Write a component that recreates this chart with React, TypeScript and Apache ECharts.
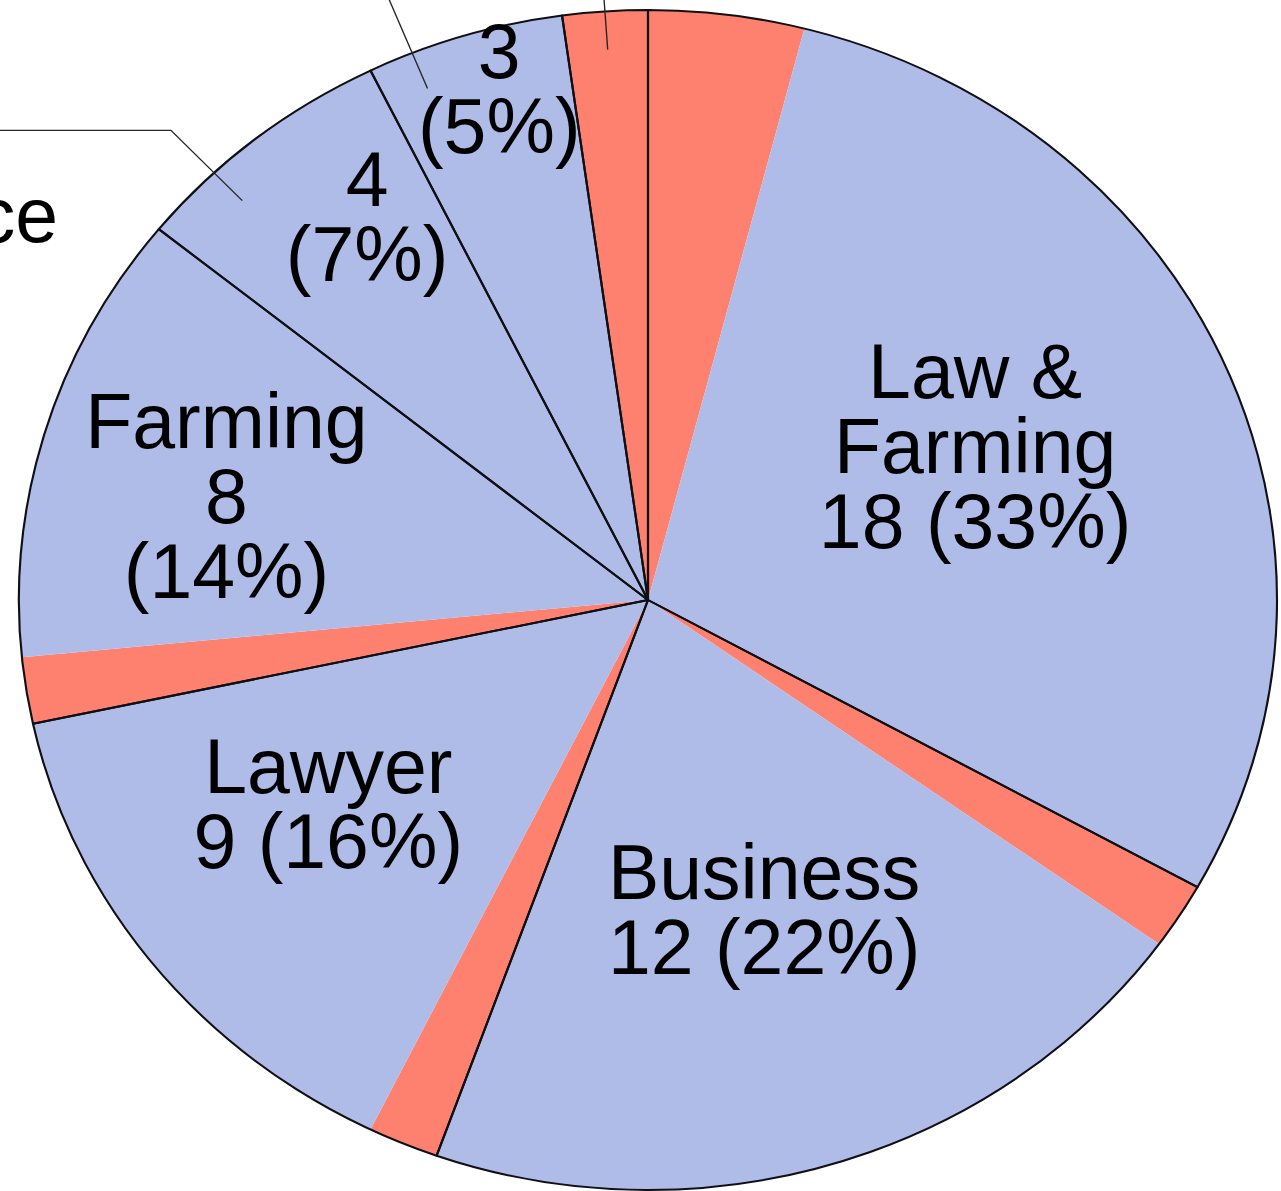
import React, { useEffect, useRef } from "react";
import * as echarts from "echarts";

// ---------- data ----------
const GROUPS = ["Law & Farming", "Business", "Lawyer", "Farming", "Public Service", "Medicine", "Other"];
const COUNTS = [18, 12, 9, 8, 4, 3, 1];
const PERCENTS = [33, 22, 16, 14, 7, 5, 2];
// slice sizes (red sub-part first, then blue part, clockwise)
const RED_PART = [2.2, 1.0, 1.0, 1.0, 0, 0, 1.2];
const BLUE_PART = [16.0, 11.3, 7.9, 6.8, 3.8, 2.8, 0];
// label text pieces
const LABEL_NAME = ["Law &\nFarming", "Business", "Lawyer", "Farming", "", "", ""];
const LABEL_SEP = [" ", " ", " ", "\n", "\n", "\n", ""];
const INSIDE_LABEL = [true, true, true, true, true, true, false];
const OUTER_NAME_INDEX = 4;

// ---------- layout / style ----------
const W = 1281;
const H = 1191;
const CX = 648;
const CY = 600;
const RX = 629;
const RY = 590;
const SX = RX / RY;
const INNER_W = W / SX;
const CX_S = CX / SX;
const BLUE = "#AFBCE8";
const RED = "#FE806F";
const FONT = "'Liberation Sans', Arial, Helvetica, sans-serif";
// label placement: [angle shift in degrees from the slice middle, radius fraction]
const LABEL_SHIFT_DEG = [-3.45, -2.05, 3.85, -1.95, 4.15, 1.75, 0];
const LABEL_RADIUS = [0.582, 0.556, 0.614, 0.693, 0.789, 0.898, 0];
const NAME_SHIFT_DEG = -16.53;
const NAME_RADIUS = 1.143;
const LEADER_R = 0.935 * RY;
const LEADER_LEN = [0, 0, 0, 0, 97, 160, 160];
const LEADER_LEN2 = [0, 0, 0, 0, 260, 60, 60];

const groupTotals = GROUPS.map((_, i) => +(RED_PART[i] + BLUE_PART[i]).toFixed(4));
const grandTotal = groupTotals.reduce((a, b) => a + b, 0);

function blueMids(): number[] {
  const mids: number[] = [];
  let acc = 0;
  for (let i = 0; i < GROUPS.length; i++) {
    const s = acc + RED_PART[i];
    mids.push(((s + BLUE_PART[i] / 2) / grandTotal) * 360);
    acc += RED_PART[i] + BLUE_PART[i];
  }
  return mids;
}

function polarPoint(deg: number, rho: number) {
  const t = (deg * Math.PI) / 180;
  return { x: CX + rho * RX * Math.sin(t), y: CY - rho * RY * Math.cos(t) };
}

function leaderSeries(startAngle: number, items: number[]) {
  return {
    type: "pie",
    z: 6,
    center: [CX_S, CY],
    radius: LEADER_R,
    startAngle,
    silent: true,
    avoidLabelOverlap: false,
    emphasis: { disabled: true },
    itemStyle: { color: "rgba(0,0,0,0)", borderWidth: 0 },
    label: { show: false },
    labelLine: { show: false },
    data: groupTotals.map((v, i) =>
      items.includes(i)
        ? {
            value: v,
            name: GROUPS[i],
            label: { show: true, position: "outside", formatter: " ", fontSize: 12, color: "rgba(0,0,0,0)" },
            labelLine: {
              show: true,
              length: LEADER_LEN[i],
              length2: LEADER_LEN2[i],
              lineStyle: { color: "#262626", width: 1.3 },
            },
          }
        : { value: v, name: GROUPS[i] }
    ),
  };
}

export default function App() {
  const shapeRef = useRef<HTMLDivElement>(null);
  const labelRef = useRef<HTMLDivElement>(null);

  useEffect(() => {
    if (!shapeRef.current || !labelRef.current) return;
    const shapes = echarts.init(shapeRef.current, undefined, { renderer: "svg" });
    const labels = echarts.init(labelRef.current, undefined, { renderer: "svg" });

    const fillData: any[] = [];
    GROUPS.forEach((g, i) => {
      if (RED_PART[i] > 0) fillData.push({ value: RED_PART[i], name: g + " (red)", itemStyle: { color: RED } });
      if (BLUE_PART[i] > 0) fillData.push({ value: BLUE_PART[i], name: g, itemStyle: { color: BLUE } });
    });

    shapes.setOption({
      animation: false,
      series: [
        {
          type: "pie",
          z: 2,
          center: [CX_S, CY],
          radius: RY,
          startAngle: 90,
          silent: true,
          emphasis: { disabled: true },
          label: { show: false },
          labelLine: { show: false },
          itemStyle: { borderWidth: 0 },
          data: fillData,
        },
        {
          type: "pie",
          z: 4,
          center: [CX_S, CY],
          radius: RY,
          startAngle: 90,
          silent: true,
          emphasis: { disabled: true },
          label: { show: false },
          labelLine: { show: false },
          itemStyle: { color: "rgba(0,0,0,0)", borderColor: "#0f0f14", borderWidth: 2 },
          data: groupTotals.map((v, i) => ({ value: v, name: GROUPS[i] })),
        },
        leaderSeries(95, [4, 5]),
        leaderSeries(90, [6]),
      ],
    });

    const mids = blueMids();
    const labelText = GROUPS.map(
      (_, i) => (LABEL_NAME[i] ? LABEL_NAME[i] + "\n" : "") + COUNTS[i] + LABEL_SEP[i] + "(" + PERCENTS[i] + "%)"
    );

    labels.setOption({
      animation: false,
      series: [
        {
          type: "pie",
          center: [CX, CY],
          radius: RY,
          startAngle: 90,
          silent: true,
          avoidLabelOverlap: false,
          emphasis: { disabled: true },
          itemStyle: { color: "rgba(0,0,0,0)", borderWidth: 0 },
          labelLine: { show: false },
          label: {
            show: true,
            position: "inside",
            color: "#000",
            fontFamily: FONT,
            fontSize: 77,
            lineHeight: 75,
            textBorderWidth: 0,
          },
          data: groupTotals.map((v, i) => ({
            value: v,
            name: GROUPS[i],
            label: { show: INSIDE_LABEL[i], formatter: labelText[i] },
          })),
          labelLayout: (p: any) => {
            const i = p.dataIndex;
            const pt = polarPoint(mids[i] + LABEL_SHIFT_DEG[i], LABEL_RADIUS[i]);
            return { x: pt.x, y: pt.y, align: "center", verticalAlign: "middle" };
          },
        },
        {
          type: "pie",
          center: [CX, CY],
          radius: RY,
          startAngle: 90,
          silent: true,
          avoidLabelOverlap: false,
          emphasis: { disabled: true },
          itemStyle: { color: "rgba(0,0,0,0)", borderWidth: 0 },
          labelLine: { show: false },
          label: { show: false },
          data: groupTotals.map((v, i) =>
            i === OUTER_NAME_INDEX
              ? {
                  value: v,
                  name: GROUPS[i],
                  label: {
                    show: true,
                    position: "outside",
                    formatter: GROUPS[i],
                    color: "#000",
                    fontFamily: FONT,
                    fontSize: 77,
                    lineHeight: 75,
                  },
                }
              : { value: v, name: GROUPS[i] }
          ),
          labelLayout: () => {
            const pt = polarPoint(mids[OUTER_NAME_INDEX] + NAME_SHIFT_DEG, NAME_RADIUS);
            return { x: pt.x, y: pt.y, align: "right", verticalAlign: "middle" };
          },
        },
      ],
    });

    return () => {
      shapes.dispose();
      labels.dispose();
    };
  }, []);

  return (
    <div
      style={{
        position: "absolute",
        left: 0,
        top: 0,
        width: W,
        height: H,
        overflow: "hidden",
        background: "#fff",
      }}
    >
      <div
        ref={shapeRef}
        style={{
          position: "absolute",
          left: 0,
          top: 0,
          width: INNER_W,
          height: H,
          transform: `scaleX(${SX})`,
          transformOrigin: "0 0",
        }}
      />
      <div ref={labelRef} style={{ position: "absolute", left: 0, top: 0, width: W, height: H }} />
    </div>
  );
}
